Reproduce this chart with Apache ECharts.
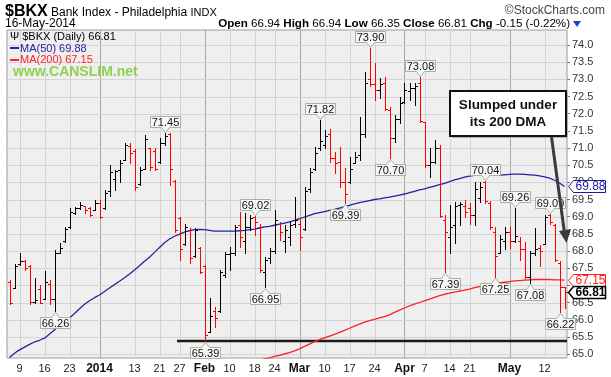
<!DOCTYPE html>
<html>
<head>
<meta charset="utf-8">
<script src="https://cdn.jsdelivr.net/npm/echarts@6/dist/echarts.min.js"></script>
<style>
	html, body { margin: 0; padding: 0; background: #fff; }
	#chart { width: 611px; height: 377px; }
</style>
</head>
<body>
<div id="chart"></div>
<script>
'use strict';

// trading days, Dec 5 2013 .. May 16 2014
var dates = [
	'Dec 5','Dec 6','Dec 9','Dec 10','Dec 11','Dec 12','Dec 13','Dec 16','Dec 17','Dec 18','Dec 19','Dec 20',
	'Dec 23','Dec 24','Dec 26','Dec 27','Dec 30','Dec 31',
	'Jan 2','Jan 3','Jan 6','Jan 7','Jan 8','Jan 9','Jan 10','Jan 13','Jan 14','Jan 15','Jan 16','Jan 17',
	'Jan 21','Jan 22','Jan 23','Jan 24','Jan 27','Jan 28','Jan 29','Jan 30','Jan 31',
	'Feb 3','Feb 4','Feb 5','Feb 6','Feb 7','Feb 10','Feb 11','Feb 12','Feb 13','Feb 14','Feb 18','Feb 19',
	'Feb 20','Feb 21','Feb 24','Feb 25','Feb 26','Feb 27','Feb 28',
	'Mar 3','Mar 4','Mar 5','Mar 6','Mar 7','Mar 10','Mar 11','Mar 12','Mar 13','Mar 14','Mar 17','Mar 18',
	'Mar 19','Mar 20','Mar 21','Mar 24','Mar 25','Mar 26','Mar 27','Mar 28','Mar 31',
	'Apr 1','Apr 2','Apr 3','Apr 4','Apr 7','Apr 8','Apr 9','Apr 10','Apr 11','Apr 14','Apr 15','Apr 16',
	'Apr 17','Apr 21','Apr 22','Apr 23','Apr 24','Apr 25','Apr 28','Apr 29','Apr 30',
	'May 1','May 2','May 5','May 6','May 7','May 8','May 9','May 12','May 13','May 14','May 15','May 16'
];

var open = [
	67.10,66.93,67.62,67.70,67.55,66.52,66.90,66.60,67.05,66.60,67.95,68.30,
	68.70,69.10,69.25,69.30,69.25,69.20,
	69.40,69.25,69.75,70.10,70.35,70.65,71.05,70.90,69.95,70.40,71.00,70.90,
	70.60,71.15,71.40,70.05,68.95,68.20,68.60,67.85,68.10,
	67.55,65.65,66.25,66.25,67.30,67.90,67.95,68.75,68.30,68.70,69.00,68.70,
	67.40,67.80,68.00,68.80,68.30,68.40,68.80,
	68.80,68.65,69.80,70.40,71.00,71.10,71.40,70.70,70.60,70.00,70.00,70.55,
	70.80,71.40,73.00,72.85,72.70,72.90,72.10,71.30,71.85,
	72.35,72.65,72.75,72.90,71.75,70.50,70.60,71.00,68.90,68.40,68.75,69.35,
	69.30,69.25,69.05,69.55,70.00,69.40,68.55,67.95,68.30,
	68.55,68.30,68.30,68.05,67.25,67.95,68.10,68.20,69.05,68.75,67.65,66.94
];
var high = [
	67.15,67.62,67.95,67.75,67.60,67.20,67.00,67.42,67.15,68.03,68.22,68.71,
	69.24,69.29,69.44,69.31,69.29,69.50,
	69.50,69.78,70.50,70.36,70.65,71.15,71.14,70.96,70.46,71.38,71.00,70.99,
	71.28,71.45,71.43,70.07,69.00,68.80,68.66,68.66,68.12,
	67.59,66.62,66.38,67.45,67.98,68.12,68.76,69.15,69.10,69.05,69.02,68.80,
	67.83,68.10,69.19,68.85,68.75,68.85,69.58,
	68.95,69.87,70.41,71.04,71.82,71.52,71.54,70.89,71.04,70.41,70.75,70.89,
	71.91,73.22,73.90,73.47,73.05,73.08,72.20,71.96,72.49,
	72.88,72.88,72.88,73.08,71.77,70.99,71.23,71.09,69.05,69.34,69.44,69.44,
	69.48,69.40,70.02,70.00,70.04,69.45,68.70,68.46,68.71,
	68.71,69.26,68.40,68.27,68.00,68.66,68.17,69.05,69.09,68.80,67.70,66.94
];
var low = [
	66.45,66.92,67.60,67.45,66.47,66.49,66.48,66.60,66.46,66.26,67.93,68.27,
	68.66,69.08,69.21,69.10,69.02,69.19,
	68.95,69.21,69.60,69.78,70.02,70.65,70.55,69.78,69.92,70.40,70.36,70.36,
	70.55,71.10,69.92,68.56,67.74,68.17,67.64,67.83,67.35,
	65.39,65.65,65.80,66.23,67.25,67.45,67.88,68.12,67.93,68.61,68.47,67.40,
	66.95,67.65,67.95,68.32,67.98,68.17,68.71,
	68.03,68.61,69.73,70.36,70.94,70.99,70.60,70.26,69.87,69.39,69.97,70.55,
	70.65,71.33,72.80,72.40,72.45,72.10,70.70,71.18,71.72,
	72.30,72.40,72.25,71.77,70.46,70.16,70.55,69.00,67.39,67.93,68.22,68.76,
	69.00,68.80,68.75,69.44,69.40,68.65,67.25,67.95,68.07,
	68.10,68.25,67.75,67.20,67.08,67.88,67.55,68.20,68.80,67.70,66.22,66.35
];
var close = [
	66.50,67.55,67.70,67.50,66.52,66.57,66.50,67.10,66.60,67.95,68.10,68.65,
	69.15,69.25,69.35,69.20,69.05,69.40,
	69.00,69.70,70.30,70.33,70.55,71.10,70.85,69.85,70.35,71.25,70.45,70.40,
	71.15,71.35,70.40,68.60,68.05,68.70,67.80,68.60,67.40,
	65.55,66.10,66.05,67.40,67.90,67.95,68.70,68.40,68.70,68.95,68.85,67.45,
	67.75,68.00,68.90,68.55,68.60,68.75,68.90,
	68.40,69.75,70.30,70.85,71.20,71.35,70.70,70.55,70.00,69.65,70.40,70.75,
	71.40,72.90,72.85,72.70,72.85,72.15,71.30,71.85,72.30,
	72.70,72.75,72.80,71.80,70.50,70.60,71.00,69.02,68.55,68.70,69.30,69.38,
	69.15,69.05,69.80,69.85,69.45,68.70,67.85,68.35,68.55,
	68.30,68.45,68.05,67.25,67.95,68.05,68.00,69.00,68.85,67.75,66.96,66.81
];

var ma50 = [
	64.90,65.02,65.12,65.20,65.28,65.35,65.40,65.46,65.58,65.70,65.82,65.93,
	66.05,66.18,66.32,66.45,66.55,66.64,
	66.72,66.82,66.92,67.02,67.12,67.22,67.33,67.45,67.57,67.70,67.82,67.96,
	68.10,68.24,68.35,68.43,68.49,68.55,68.59,68.62,68.63,
	68.62,68.60,68.58,68.58,68.58,68.58,68.58,68.59,68.60,68.62,68.64,68.67,
	68.70,68.72,68.75,68.78,68.81,68.85,68.89,
	68.94,68.99,69.04,69.09,69.12,69.15,69.18,69.21,69.25,69.29,69.33,69.37,
	69.41,69.44,69.47,69.50,69.52,69.55,69.57,69.60,69.63,
	69.66,69.70,69.74,69.78,69.81,69.85,69.89,69.93,69.97,70.02,70.07,70.11,
	70.15,70.18,70.20,70.21,70.22,70.22,70.21,70.21,70.22,
	70.23,70.24,70.24,70.23,70.22,70.21,70.19,70.16,70.12,70.06,69.98,69.88
];
var ma200 = [
	null,null,null,null,null,null,null,null,null,null,null,null,
	null,null,null,null,null,null,
	null,null,null,null,null,null,null,null,null,null,null,null,
	null,null,null,null,null,null,null,null,null,
	null,null,null,null,null,null,null,null,null,64.74,64.78,64.82,
	64.86,64.89,64.93,64.96,65.00,65.04,65.09,
	65.15,65.22,65.29,65.36,65.42,65.47,65.52,65.57,65.63,65.69,65.75,65.81,
	65.87,65.93,65.97,66.01,66.05,66.09,66.14,66.21,66.28,
	66.34,66.40,66.45,66.50,66.55,66.60,66.65,66.70,66.74,66.77,66.80,66.83,
	66.86,66.89,66.93,66.96,66.98,67.01,67.04,67.07,67.09,
	67.11,67.13,67.14,67.15,67.16,67.17,67.17,67.17,67.17,67.16,67.16,67.15
];

var yTicks = [65,65.5,66,66.5,67,67.5,68,68.5,69,69.5,70,70.5,71,71.5,72,72.5,73,73.5,74];
var tickDates = ['Dec 9','Dec 16','Dec 23','Jan 2','Jan 13','Jan 21','Jan 27','Feb 3','Feb 10','Feb 18','Feb 24',
	'Mar 3','Mar 10','Mar 17','Mar 24','Apr 1','Apr 7','Apr 14','Apr 21','May 1','May 12'];
var tickText = ['9','16','23','2014','13','21','27','Feb','10','18','24',
	'Mar','10','17','24','Apr','7','14','21','May','12'];
var monthDates = ['Jan 2','Feb 3','Mar 3','Apr 1','May 1'];
var highMarks = ['Jan 22','Feb 18','Mar 7','Mar 21','Apr 4','Apr 24','May 2','May 13'];
var lowMarks = ['Dec 18','Feb 3','Feb 20','Mar 14','Mar 27','Apr 11','Apr 28','May 7','May 15'];
var supportLevel = 65.39, supportFrom = 'Jan 27';


(function(){

	var FONT = "'Liberation Sans', Arial, sans-serif";
	var GL = 7, GT = 30, GW = 560, GH = 328;
	// 74.0 sits at y=45, 65.0 at y=354
	var PPU = 309 / 9;
	var yMax = 74 + (45 - GT) / PPU,
			yMin = 65 - (GT + GH - 354) / PPU;

	var last = close.length - 1;

	var bars = dates.map(function(d, i){
		var down = i > 0 ? close[i] < close[i-1] : close[i] < open[i];
		return [i, open[i], high[i], low[i], close[i], down ? 1 : 0];
	});

	var marks = [];
	highMarks.forEach(function(d){ var i = dates.indexOf(d); marks.push([i, high[i], 1]); });
	lowMarks.forEach(function(d){ var i = dates.indexOf(d); marks.push([i, low[i], -1]); });

	var vLines = tickDates.map(function(d){
		return [dates.indexOf(d), 70, monthDates.indexOf(d) >= 0 ? 1 : 0];
	});
	var hLines = yTicks.map(function(v){ return [0, v]; });

	var tags = [
		[last, ma50[last], 0],
		[last, ma200[last], 1],
		[last, close[last], 2],
	];
	var tagStyle = [
		{ stroke: '#1a1aa0', text: '#1a1aa0', bold: false },
		{ stroke: '#ff2020', text: '#ff2020', bold: false },
		{ stroke: '#000000', text: '#000000', bold: true },
	];

	function crisp(v){ return Math.round(v) + 0.5; }

	function renderVLine(params, api){
		var cs = params.coordSys;
		var x = crisp(api.coord([api.value(0), 70])[0]);
		return {
			type: 'line',
			shape: { x1: x, y1: cs.y, x2: x, y2: cs.y + cs.height },
			style: { stroke: api.value(2) ? '#a8a8a8' : '#d4d4d4', lineWidth: 1 },
		};
	}

	function renderHLine(params, api){
		var cs = params.coordSys;
		var y = crisp(api.coord([0, api.value(1)])[1]);
		return {
			type: 'line',
			shape: { x1: cs.x, y1: y, x2: cs.x + cs.width, y2: y },
			style: { stroke: '#d4d4d4', lineWidth: 1 },
		};
	}

	function renderBar(params, api){
		var i = api.value(0);
		var h = api.coord([i, api.value(2)]),
				l = api.coord([i, api.value(3)]),
				oy = crisp(api.coord([i, api.value(1)])[1]),
				cy = crisp(api.coord([i, api.value(4)])[1]);
		var x = crisp(h[0]);
		var st = { stroke: api.value(5) ? '#ff0000' : '#000000', lineWidth: 1 };
		return {
			type: 'group',
			children: [
				{ type: 'line', shape: { x1: x, y1: Math.round(h[1]), x2: x, y2: Math.round(l[1]) + 1 }, style: st },
				{ type: 'line', shape: { x1: x - 2.5, y1: oy, x2: x, y2: oy }, style: st },
				{ type: 'line', shape: { x1: x, y1: cy, x2: x + 2.5, y2: cy }, style: st },
			],
		};
	}

	function renderMark(params, api){
		var v = api.value(1), up = api.value(2) > 0;
		var p = api.coord([api.value(0), v]);
		var x = crisp(p[0]);
		var tip = up ? Math.round(p[1]) - 0.5 : Math.round(p[1]) + 1.5;
		var base = up ? tip - 5 : tip + 5,
				far = up ? base - 11 : base + 11;
		var w = 15;
		var pts = [[x-w, far], [x+w, far], [x+w, base], [x+4, base], [x, tip], [x-4, base], [x-w, base]];
		return {
			type: 'group',
			children: [
				{ type: 'polygon', shape: { points: pts }, style: { fill: '#f6f7f6', stroke: '#a3b3a3', lineWidth: 1 } },
				{ type: 'text', x: x, y: (base + far) / 2 + 0.5,
					style: { text: v.toFixed(2), fill: '#111', font: '11px ' + FONT, align: 'center', verticalAlign: 'middle' } },
			],
		};
	}

	function renderTag(params, api){
		var cs = params.coordSys;
		var s = tagStyle[api.value(2)];
		var y = crisp(api.coord([api.value(0), api.value(1)])[1]);
		var x0 = cs.x + cs.width + 1.5;
		var pts = [[x0, y], [x0+5, y-6], [x0+37, y-6], [x0+37, y+6], [x0+5, y+6]];
		return {
			type: 'group',
			children: [
				{ type: 'polygon', shape: { points: pts },
					style: { fill: '#ffffff', stroke: s.stroke, lineWidth: s.bold ? 1.5 : 1 } },
				{ type: 'text', x: x0 + 7, y: y + 0.5,
					style: { text: api.value(1).toFixed(2), fill: s.text, align: 'left', verticalAlign: 'middle',
						font: (s.bold ? 'bold ' : '') + '12px ' + FONT } },
			],
		};
	}

	function renderSupport(params, api){
		var cs = params.coordSys;
		var i = api.value(0);
		var band = api.size([1, 0])[0];
		var p = api.coord([i, api.value(1)]);
		var y = Math.round(p[1]);
		return {
			type: 'line',
			shape: { x1: p[0] - band / 2, y1: y, x2: cs.x + cs.width, y2: y },
			style: { stroke: '#1a1a1a', lineWidth: 2.5 },
		};
	}

	var chg = close[last] - close[last-1];
	var pct = chg / close[last-1] * 100;

	var option = {
		animation: false,
		backgroundColor: '#ffffff',
		textStyle: { fontFamily: FONT },
		grid: {
			left: GL, top: GT, width: GW, height: GH,
			show: true, backgroundColor: '#efefef', borderColor: '#9a9a9a', borderWidth: 1,
		},
		xAxis: {
			type: 'category',
			data: dates,
			boundaryGap: true,
			axisLine: { show: false },
			axisTick: { show: false },
			splitLine: { show: false },
			axisLabel: {
				interval: function(i, v){ return tickDates.indexOf(v) >= 0; },
				formatter: function(v){
					var t = tickText[tickDates.indexOf(v)];
					return isNaN(+t) || t === '2014' ? '{b|' + t + '}' : t;
				},
				color: '#222', fontSize: 11, margin: 5,
				rich: { b: { fontWeight: 'bold', fontSize: 12, color: '#111' } },
			},
		},
		yAxis: {
			type: 'value',
			position: 'right',
			min: yMin, max: yMax,
			axisLine: { show: false },
			splitLine: { show: false },
			axisTick: { show: true, length: 3, customValues: yTicks, lineStyle: { color: '#777' } },
			axisLabel: {
				customValues: yTicks,
				formatter: function(v){ return v.toFixed(1); },
				color: '#333', fontSize: 11, margin: 5,
			},
		},
		series: [
			{ type: 'custom', name: 'vgrid', data: vLines, renderItem: renderVLine, silent: true, z: 0,
				encode: { x: 0, y: 1 } },
			{ type: 'custom', name: 'hgrid', data: hLines, renderItem: renderHLine, silent: true, z: 0,
				encode: { x: 0, y: 1 } },
			{ type: 'custom', name: 'support', data: [[dates.indexOf(supportFrom), supportLevel]],
				renderItem: renderSupport, silent: true, z: 1, encode: { x: 0, y: 1 } },
			{ type: 'line', name: 'MA(200)', data: ma200, showSymbol: false, symbol: 'none', z: 2,
				lineStyle: { color: '#ff2020', width: 1.3 }, silent: true },
			{ type: 'line', name: 'MA(50)', data: ma50, showSymbol: false, symbol: 'none', z: 2,
				lineStyle: { color: '#24249c', width: 1.3 }, silent: true },
			{ type: 'custom', name: '$BKX', data: bars, renderItem: renderBar, z: 3,
				encode: { x: 0, y: [1, 2, 3, 4] } },
			{ type: 'custom', name: 'marks', data: marks, renderItem: renderMark, z: 4, silent: true,
				encode: { x: 0, y: 1 } },
			{ type: 'custom', name: 'tags', data: tags, renderItem: renderTag, z: 5, silent: true,
				encode: { x: 0, y: 1 } },
		],
		graphic: [
			{ type: 'text', x: 5, y: 12, z: 10,
				style: { text: '{a|$BKX} {b|Bank Index - Philadelphia} {c|INDX}', verticalAlign: 'middle',
					rich: {
						a: { font: 'bold 16px ' + FONT, fill: '#000' },
						b: { font: '12px ' + FONT, fill: '#000', padding: [2, 0, 0, 0] },
						c: { font: '11px ' + FONT, fill: '#000', padding: [2, 0, 0, 0] },
					} } },
			{ type: 'text', x: 605, y: 11, z: 10,
				style: { text: '\u00a9StockCharts.com', font: '12px ' + FONT, fill: '#444', align: 'right', verticalAlign: 'middle' } },
			{ type: 'text', x: 5, y: 24, z: 10,
				style: { text: '16-May-2014', font: '12px ' + FONT, fill: '#000', verticalAlign: 'middle' } },
			{ type: 'text', x: 570, y: 24, z: 10,
				style: {
					text: '{k|Open} ' + open[last].toFixed(2) + ' {k|High} ' + high[last].toFixed(2) +
						' {k|Low} ' + low[last].toFixed(2) + ' {k|Close} ' + close[last].toFixed(2) +
						' {k|Chg} ' + chg.toFixed(2) + ' (' + pct.toFixed(2) + '%)',
					font: '11.6px ' + FONT, fill: '#000', align: 'right', verticalAlign: 'middle',
					rich: { k: { font: 'bold 11.6px ' + FONT, fill: '#000' } },
				} },
			{ type: 'polygon', z: 10, shape: { points: [[573, 21], [581, 21], [577, 27]] }, style: { fill: '#1f3fd0' } },

			// legend inside plot
			{ type: 'text', x: 10, y: 37, z: 10,
				style: { text: '\u03A8 $BKX (Daily) ' + close[last].toFixed(2), font: '11px ' + FONT, fill: '#000', verticalAlign: 'middle' } },
			{ type: 'rect', x: 10, y: 47, z: 10, shape: { width: 9, height: 2 }, style: { fill: '#24249c' } },
			{ type: 'text', x: 20, y: 48.5, z: 10,
				style: { text: 'MA(50) ' + ma50[last].toFixed(2), font: '11px ' + FONT, fill: '#24249c', verticalAlign: 'middle' } },
			{ type: 'rect', x: 10, y: 59, z: 10, shape: { width: 9, height: 2 }, style: { fill: '#ff2020' } },
			{ type: 'text', x: 20, y: 60, z: 10,
				style: { text: 'MA(200) ' + ma200[last].toFixed(2), font: '11px ' + FONT, fill: '#ff2020', verticalAlign: 'middle' } },
			{ type: 'text', x: 13, y: 72, z: 10,
				style: { text: 'www.CANSLIM.net', font: 'bold 14px ' + FONT, fill: '#8fd14f', verticalAlign: 'middle' } },

			// callout
			{ type: 'rect', x: 452, y: 93, z: 10, shape: { width: 116, height: 45 }, style: { fill: '#b0b0b0' } },
			{ type: 'rect', x: 450, y: 91, z: 11, shape: { width: 116, height: 45 },
				style: { fill: '#ffffff', stroke: '#111', lineWidth: 2 } },
			{ type: 'text', x: 508, y: 105, z: 12,
				style: { text: 'Slumped under', font: 'bold 13.5px ' + FONT, fill: '#111', align: 'center', verticalAlign: 'middle' } },
			{ type: 'text', x: 508, y: 122, z: 12,
				style: { text: 'its 200 DMA', font: 'bold 13.5px ' + FONT, fill: '#111', align: 'center', verticalAlign: 'middle' } },
			{ type: 'line', z: 12, shape: { x1: 551.5, y1: 137, x2: 564.5, y2: 233 },
				style: { stroke: '#3a3a3a', lineWidth: 3 } },
			{ type: 'polygon', z: 12, shape: { points: [[559, 231], [571, 229], [566.5, 243]] }, style: { fill: '#3a3a3a' } },
		],
	};

	echarts.init(document.getElementById('chart'), null, { renderer: 'canvas' }).setOption(option);

})();
</script>
</body>
</html>
